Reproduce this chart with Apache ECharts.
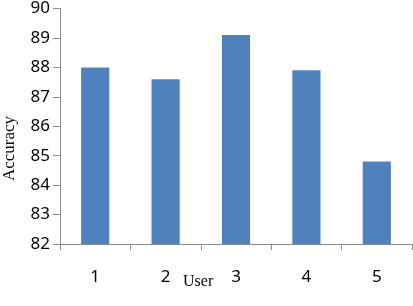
<!DOCTYPE html>
<html>
<head>
<meta charset="utf-8">
<script src="https://cdn.jsdelivr.net/npm/echarts@6/dist/echarts.min.js"></script>
<style>
html, body { margin: 0; padding: 0; background: #fff; }
#main { width: 413px; height: 306px; }
</style>
</head>
<body>
<div id="main"></div>
<script>
var users = ['1', '2', '3', '4', '5'];
var accuracy = [88.0, 87.6, 89.1, 87.9, 84.8];
var yMin = 82, yMax = 90, yStep = 1;

var chart = echarts.init(document.getElementById('main'));

var option = {
    backgroundColor: '#ffffff',
    animation: false,
    grid: { left: 60, right: 1, top: 6, bottom: 62 },
    xAxis: {
        type: 'category',
        data: users,
        axisLine: { lineStyle: { color: '#8c8c8c', width: 1 } },
        axisTick: { show: true, length: 6, lineStyle: { color: '#8c8c8c' } },
        axisLabel: { margin: 25, color: '#000', fontSize: 17, fontFamily: '"Noto Sans", sans-serif' }
    },
    yAxis: {
        type: 'value',
        min: yMin, max: yMax, interval: yStep,
        axisLine: { show: true, lineStyle: { color: '#8c8c8c', width: 1 } },
        axisTick: { show: true, length: 7, lineStyle: { color: '#8c8c8c' } },
        splitLine: { show: false },
        axisLabel: { margin: 10, color: '#000', fontSize: 17, fontFamily: '"Noto Sans", sans-serif' }
    },
    graphic: [
        {
            type: 'text', left: 183, top: 274,
            style: { text: 'User', font: '16px "Liberation Serif", serif', fill: '#000' }
        },
        {
            type: 'text', x: 1, y: 181, rotation: Math.PI / 2,
            style: { text: 'Accuracy', font: '17px "Liberation Serif", serif', fill: '#000' }
        }
    ],
    series: [{
        type: 'bar',
        data: accuracy,
        barWidth: '40%',
        itemStyle: { color: '#4f81bd' }
    }]
};
chart.setOption(option);
</script>
</body>
</html>
